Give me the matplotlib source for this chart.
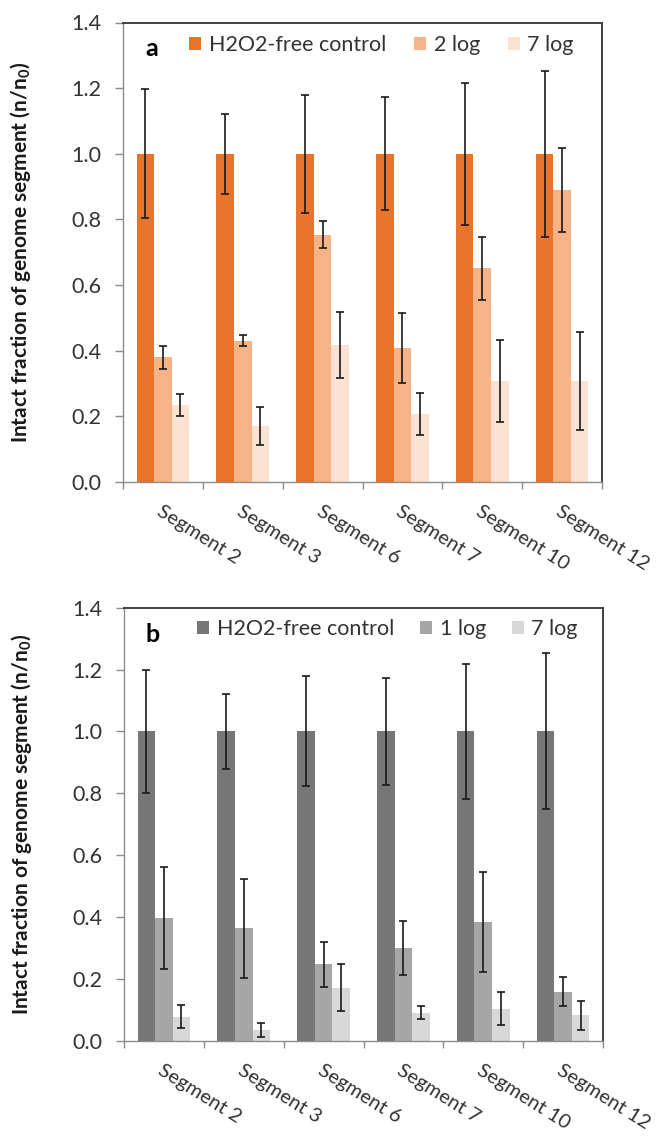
import numpy as np
import matplotlib.pyplot as plt
from matplotlib.ticker import FixedLocator

plt.rcParams['font.family'] = ['Lato', 'DejaVu Sans']

segments = ['Segment 2', 'Segment 3', 'Segment 6', 'Segment 7', 'Segment 10', 'Segment 12']

# panel a (orange)
a_labels = ['H2O2-free control', '2 log', '7 log']
a_control = [1.0, 1.0, 1.0, 1.0, 1.0, 1.0]
a_control_err = [0.197, 0.122, 0.180, 0.172, 0.217, 0.253]
a_2log = [0.380, 0.431, 0.754, 0.409, 0.651, 0.890]
a_2log_err = [0.035, 0.018, 0.042, 0.107, 0.095, 0.127]
a_7log = [0.235, 0.172, 0.417, 0.208, 0.309, 0.308]
a_7log_err = [0.033, 0.058, 0.100, 0.064, 0.125, 0.149]

# panel b (grey)
b_labels = ['H2O2-free control', '1 log', '7 log']
b_control = [1.0, 1.0, 1.0, 1.0, 1.0, 1.0]
b_control_err = [0.198, 0.122, 0.178, 0.172, 0.217, 0.252]
b_1log = [0.397, 0.363, 0.247, 0.300, 0.385, 0.158]
b_1log_err = [0.166, 0.159, 0.073, 0.088, 0.162, 0.047]
b_7log = [0.077, 0.035, 0.172, 0.091, 0.103, 0.082]
b_7log_err = [0.037, 0.022, 0.077, 0.022, 0.053, 0.047]

yticks = [0.0, 0.2, 0.4, 0.6, 0.8, 1.0, 1.2, 1.4]

orange = ['#E8752B', '#F5B387', '#FCE2D2']
grey = ['#777777', '#A6A6A6', '#D8D8D8']

W = 0.22  # bar width (excel gap width ~150%)


def draw_panel(ax, vals, errs, labels, colors, letter, lx, ly, letter_y, colsp):
    x = np.arange(len(segments))
    handles = []
    for i, (v, e, c) in enumerate(zip(vals, errs, colors)):
        h = ax.bar(x + (i - 1) * W, v, W, color=c, label=labels[i], zorder=2)
        ax.errorbar(x + (i - 1) * W, v, yerr=e, fmt='none', ecolor='#1a1a1a',
                    elinewidth=1.2, capsize=3, capthick=1.2, zorder=3)
        handles.append(h)

    ax.set_xlim(-0.5, len(segments) - 0.5)
    ax.set_ylim(0, 1.4)
    ax.set_yticks(yticks)
    ax.set_yticklabels(['%.1f' % t for t in yticks])

    ax.set_xticks(x)
    ax.set_xticklabels(segments, rotation=-32, ha='left', va='top',
                       rotation_mode='anchor')
    ax.xaxis.set_minor_locator(FixedLocator(np.arange(-0.5, len(segments), 1.0)))
    ax.tick_params(axis='x', which='major', length=0, pad=15, labelsize=14.5,
                   labelcolor='#333333')
    ax.tick_params(axis='x', which='minor', length=5, width=1, color='#8c8c8c',
                   direction='out')
    ax.tick_params(axis='y', length=5.8, width=1, color='#8c8c8c', pad=10,
                   labelsize=15.5, labelcolor='#333333')

    for s in ['left', 'bottom']:
        ax.spines[s].set_color('#8c8c8c')
        ax.spines[s].set_linewidth(1.0)
    for s in ['top', 'right']:
        ax.spines[s].set_color('#404040')
        ax.spines[s].set_linewidth(1.4)

    ax.set_ylabel('Intact fraction of genome segment (n/n$_\\mathregular{0}$)',
                  fontsize=15, fontweight='bold', color='#1a1a1a')
    ax.yaxis.set_label_coords(-0.187, 0.5)

    ax.text(0.06, letter_y, letter, transform=ax.transAxes, fontsize=18,
            fontweight='bold', ha='center', va='center')
    ax.legend(handles=handles, loc='center left', bbox_to_anchor=(lx, ly),
              ncol=3, frameon=False, fontsize=15.5, borderaxespad=0, borderpad=0,
              handlelength=0.56, handleheight=0.56, handletextpad=0.35,
              columnspacing=colsp, labelcolor='#333333')


fig = plt.figure(figsize=(6.72, 11.36), dpi=100)
ax1 = fig.add_axes([123 / 672, 1 - 482 / 1136, 479 / 672, 459.5 / 1136])
ax2 = fig.add_axes([124 / 672, 1 - 1040.7 / 1136, 479 / 672, 433 / 1136])

draw_panel(ax1, [a_control, a_2log, a_7log],
           [a_control_err, a_2log_err, a_7log_err],
           a_labels, orange, 'a', 0.138, 0.95, 0.943, 1.3)
draw_panel(ax2, [b_control, b_1log, b_7log],
           [b_control_err, b_1log_err, b_7log_err],
           b_labels, grey, 'b', 0.153, 0.95, 0.937, 1.2)

fig.savefig('out.png', dpi=100)
